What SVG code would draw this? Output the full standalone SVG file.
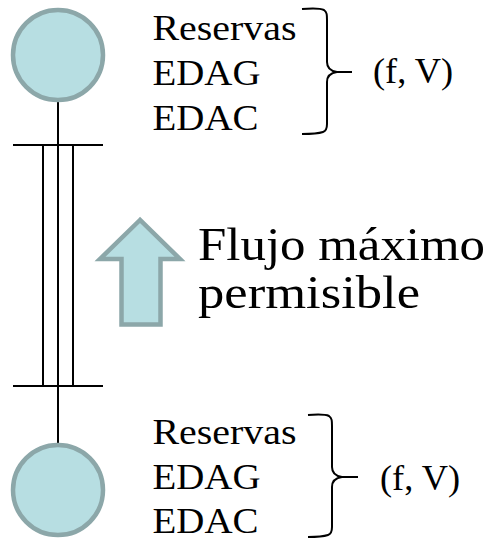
<svg xmlns="http://www.w3.org/2000/svg" width="493" height="539" viewBox="0 0 493 539">
  <style>
    .bus { fill: #B7DEE2; stroke: #8CA7A9; stroke-width: 4.5; }
    .wire { stroke: #000; stroke-width: 2; fill: none; }
    .brace { stroke: #000; stroke-width: 2; fill: none; }
    .lbl { font-family: "Liberation Serif", "Times New Roman", serif; font-size: 35px; fill: #000; }
    .big { font-family: "Liberation Serif", "Times New Roman", serif; font-size: 46px; fill: #000; }
  </style>

  <rect width="493" height="539" fill="#fff"/>

  <!-- line between the two buses -->
  <g id="connectors">
    <line class="wire" x1="58" y1="100" x2="58" y2="446"/>
    <line class="wire" x1="13" y1="145" x2="103" y2="145"/>
    <line class="wire" x1="13" y1="386" x2="103" y2="386"/>
    <line class="wire" x1="43" y1="145" x2="43" y2="386"/>
    <line class="wire" x1="73" y1="145" x2="73" y2="386"/>
  </g>

  <g id="bus-top">
    <circle class="bus" cx="58" cy="55" r="45"/>
  </g>

  <g id="bus-bottom">
    <circle class="bus" cx="58" cy="490" r="45"/>
  </g>

  <g id="flow-arrow">
    <polygon class="bus" points="140,220 100,259 121.5,259 121.5,324.5 160.5,324.5 160.5,259 180,259"/>
  </g>

  <g id="flow-label">
    <text class="big" x="198" y="260" textLength="287" lengthAdjust="spacingAndGlyphs">Flujo máximo</text>
    <text class="big" x="198" y="308" textLength="222" lengthAdjust="spacingAndGlyphs">permisible</text>
  </g>

  <g id="vars-top">
    <text class="lbl" x="152.5" y="40" textLength="144" lengthAdjust="spacingAndGlyphs">Reservas</text>
    <text class="lbl" x="152.5" y="85" textLength="108" lengthAdjust="spacingAndGlyphs">EDAG</text>
    <text class="lbl" x="152.5" y="130" textLength="106" lengthAdjust="spacingAndGlyphs">EDAC</text>
    <path class="brace" d="M302,9 C315,8 322,9 324,10 C327,12 327,15 327,20 L327,62 C327,68 330,71 337,72 L352,72 M337,72 C330,73 327,76 327,82 L327,124 C327,129 326,131 323,132 C320,133 313,134 302,134"/>
    <text class="lbl" x="373" y="83" textLength="80" lengthAdjust="spacingAndGlyphs">(f, V)</text>
  </g>

  <g id="vars-bottom">
    <text class="lbl" x="152.5" y="444" textLength="144" lengthAdjust="spacingAndGlyphs">Reservas</text>
    <text class="lbl" x="152.5" y="489" textLength="108" lengthAdjust="spacingAndGlyphs">EDAG</text>
    <text class="lbl" x="152.5" y="533" textLength="106" lengthAdjust="spacingAndGlyphs">EDAC</text>
    <path class="brace" d="M308,415 C321,414 327,415 329,416 C332,418 332,421 332,426 L332,467 C332,473 335,476 342,477 L358,477 M342,477 C335,478 332,481 332,487 L332,527 C332,532 331,534 328,535 C325,536 319,537 308,537"/>
    <text class="lbl" x="380" y="490" textLength="80" lengthAdjust="spacingAndGlyphs">(f, V)</text>
  </g>
</svg>
